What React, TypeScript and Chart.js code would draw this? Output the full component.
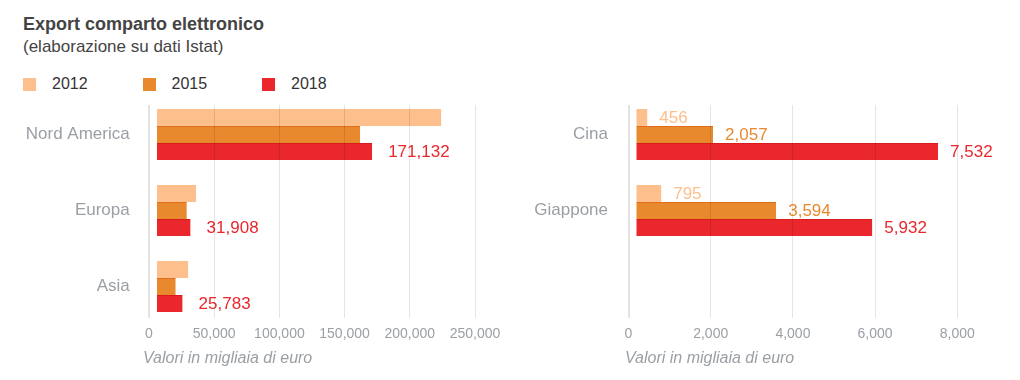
import React, { useEffect, useRef } from 'react';
import { Chart, registerables } from 'chart.js';

Chart.register(...registerables);

// ---------- data ----------
const TITLE = 'Export comparto elettronico';
const SUBTITLE = '(elaborazione su dati Istat)';
const AXIS_TITLE = 'Valori in migliaia di euro';

const seriesNames = ['2012', '2015', '2018'];

const leftCategories = ['Nord America', 'Europa', 'Asia'];
const left2012 = [224000, 36000, 30000];
const left2015 = [162000, 29000, 20500];
const left2018 = [171132, 31908, 25783];
const leftTicks = [0, 50000, 100000, 150000, 200000, 250000];
const leftLabelled = [false, false, true];

const rightCategories = ['Cina', 'Giappone', ''];
const right2012 = [456, 795, null];
const right2015 = [2057, 3594, null];
const right2018 = [7532, 5932, null];
const rightTicks = [0, 2000, 4000, 6000, 8000];
const rightLabelled = [true, true, true];

// ---------- styles ----------
const SERIES_COLORS = ['#fdbf8c', '#e8892e', '#e9272c'];
const SERIES_EDGES = ['#fdbf8c', '#e06c1c', '#d81c1c'];
const FONT = '"Liberation Sans", Arial, Helvetica, sans-serif';
const GRAY = '#9a9fa4';

type PanelProps = {
  left: number;
  categories: string[];
  series: (number | null)[][];
  ticks: number[];
  labelled: boolean[];
  areaLeft: number;
  catGap: number;
  rightPad: number;
  valueGap: number;
};

function Panel(p: PanelProps) {
  const ref = useRef<HTMLCanvasElement>(null);
  useEffect(() => {
    const barInset = 8;
    const gridTop = 15;
    const gridBottom = 228;
    const plugin = {
      id: 'panelDecor',
      beforeDatasetsDraw(chart: any) {
        const { ctx, chartArea } = chart;
        ctx.save();
        ctx.beginPath();
        ctx.rect(chartArea.left + barInset, chartArea.top, chart.width, chartArea.bottom - chartArea.top);
        ctx.clip();
      },
      afterDatasetsDraw(chart: any) {
        const { ctx } = chart;
        ctx.restore();
        ctx.save();
        ctx.font = `17px ${FONT}`;
        ctx.textBaseline = 'middle';
        ctx.textAlign = 'left';
        chart.data.datasets.forEach((ds: any, di: number) => {
          if (!p.labelled[di]) return;
          const meta = chart.getDatasetMeta(di);
          meta.data.forEach((bar: any, i: number) => {
            const v = ds.data[i];
            if (v == null) return;
            ctx.fillStyle = SERIES_COLORS[di];
            ctx.fillText(Number(v).toLocaleString('en-US'), bar.x + p.valueGap, bar.y + 1);
          });
        });
        ctx.restore();
        // clip the grid layer drawn after datasets
        ctx.save();
        ctx.beginPath();
        ctx.rect(0, gridTop, chart.width, gridBottom - gridTop);
        ctx.clip();
      },
      afterDraw(chart: any) {
        chart.ctx.restore();
      },
    };

    const chart = new Chart(ref.current as HTMLCanvasElement, {
      type: 'bar',
      data: {
        labels: p.categories,
        datasets: p.series.map((d, i) => ({
          label: seriesNames[i],
          data: d,
          backgroundColor: SERIES_COLORS[i],
          borderColor: SERIES_EDGES[i],
          borderWidth: i === 0 ? 0 : { top: 1, right: 0, bottom: 0, left: 0 },
          borderSkipped: false,
          categoryPercentage: 0.671,
          barPercentage: 1,
        })) as any,
      },
      options: {
        indexAxis: 'y',
        responsive: false,
        animation: false,
        layout: { padding: { left: 0, right: p.rightPad, top: 6.5, bottom: 31.5 } },
        plugins: {
          legend: { display: false },
          tooltip: { enabled: false },
          title: { display: false },
        },
        scales: {
          x: {
            type: 'linear',
            min: p.ticks[0],
            max: p.ticks[p.ticks.length - 1],
            afterBuildTicks: (scale: any) => {
              scale.ticks = p.ticks.map((value) => ({ value }));
            },
            afterFit: (scale: any) => {
              scale.height = 24;
            },
            grid: {
              z: 1,
              drawTicks: false,
              color: (c: any) => (c.tick && c.tick.value === 0 ? '#e3e3e3' : 'rgba(0,0,0,0.1)'),
              lineWidth: (c: any) => (c.tick && c.tick.value === 0 ? 2 : 1),
            },
            border: { display: false },
            ticks: {
              padding: 1,
              color: GRAY,
              font: { family: FONT, size: 14 },
              maxRotation: 0,
              callback: (v: any) => Number(v).toLocaleString('en-US'),
            },
          },
          y: {
            type: 'category',
            offset: true,
            afterFit: (scale: any) => {
              scale.width = p.areaLeft;
              scale.paddingTop = 0;
              scale.paddingBottom = 0;
            },
            grid: { display: false, drawTicks: false },
            border: { display: false },
            ticks: {
              padding: p.catGap,
              color: GRAY,
              font: { family: FONT, size: 17 },
            },
          },
        },
      } as any,
      plugins: [plugin],
    });
    return () => chart.destroy();
  }, []);
  return (
    <canvas
      ref={ref}
      width={510}
      height={290}
      style={{ position: 'absolute', left: p.left, top: 90, display: 'block' }}
    />
  );
}

export default function App() {
  return (
    <div
      style={{
        position: 'absolute',
        left: 0,
        top: 0,
        width: 1020,
        height: 380,
        background: '#fff',
        fontFamily: FONT,
        overflow: 'hidden',
      }}
    >
      <div style={{ position: 'absolute', left: 23, top: 14, fontSize: 18, fontWeight: 'bold', color: '#444', whiteSpace: 'nowrap' }}>
        {TITLE}
      </div>
      <div style={{ position: 'absolute', left: 23, top: 37, fontSize: 17, color: '#444', whiteSpace: 'nowrap' }}>
        {SUBTITLE}
      </div>
      <div style={{ position: 'absolute', left: 23, top: 75, display: 'flex' }}>
        {seriesNames.map((n, i) => (
          <div key={n} style={{ width: 119.5, display: 'flex', alignItems: 'center' }}>
            <span style={{ width: 13, height: 13, background: SERIES_COLORS[i], display: 'inline-block', marginRight: 16 }} />
            <span style={{ fontSize: 16, color: '#333' }}>{n}</span>
          </div>
        ))}
      </div>
      <Panel
        left={0}
        categories={leftCategories}
        series={[left2012, left2015, left2018]}
        ticks={leftTicks}
        labelled={leftLabelled}
        areaLeft={149}
        catGap={19.3}
        rightPad={35}
        valueGap={16}
      />
      <Panel
        left={510}
        categories={rightCategories}
        series={[right2012, right2015, right2018]}
        ticks={rightTicks}
        labelled={rightLabelled}
        areaLeft={118.5}
        catGap={20.5}
        rightPad={62.7}
        valueGap={12}
      />
      <div style={{ position: 'absolute', left: 143, top: 348.5, fontSize: 16, fontStyle: 'italic', color: GRAY, whiteSpace: 'nowrap' }}>
        {AXIS_TITLE}
      </div>
      <div style={{ position: 'absolute', left: 625, top: 348.5, fontSize: 16, fontStyle: 'italic', color: GRAY, whiteSpace: 'nowrap' }}>
        {AXIS_TITLE}
      </div>
    </div>
  );
}
